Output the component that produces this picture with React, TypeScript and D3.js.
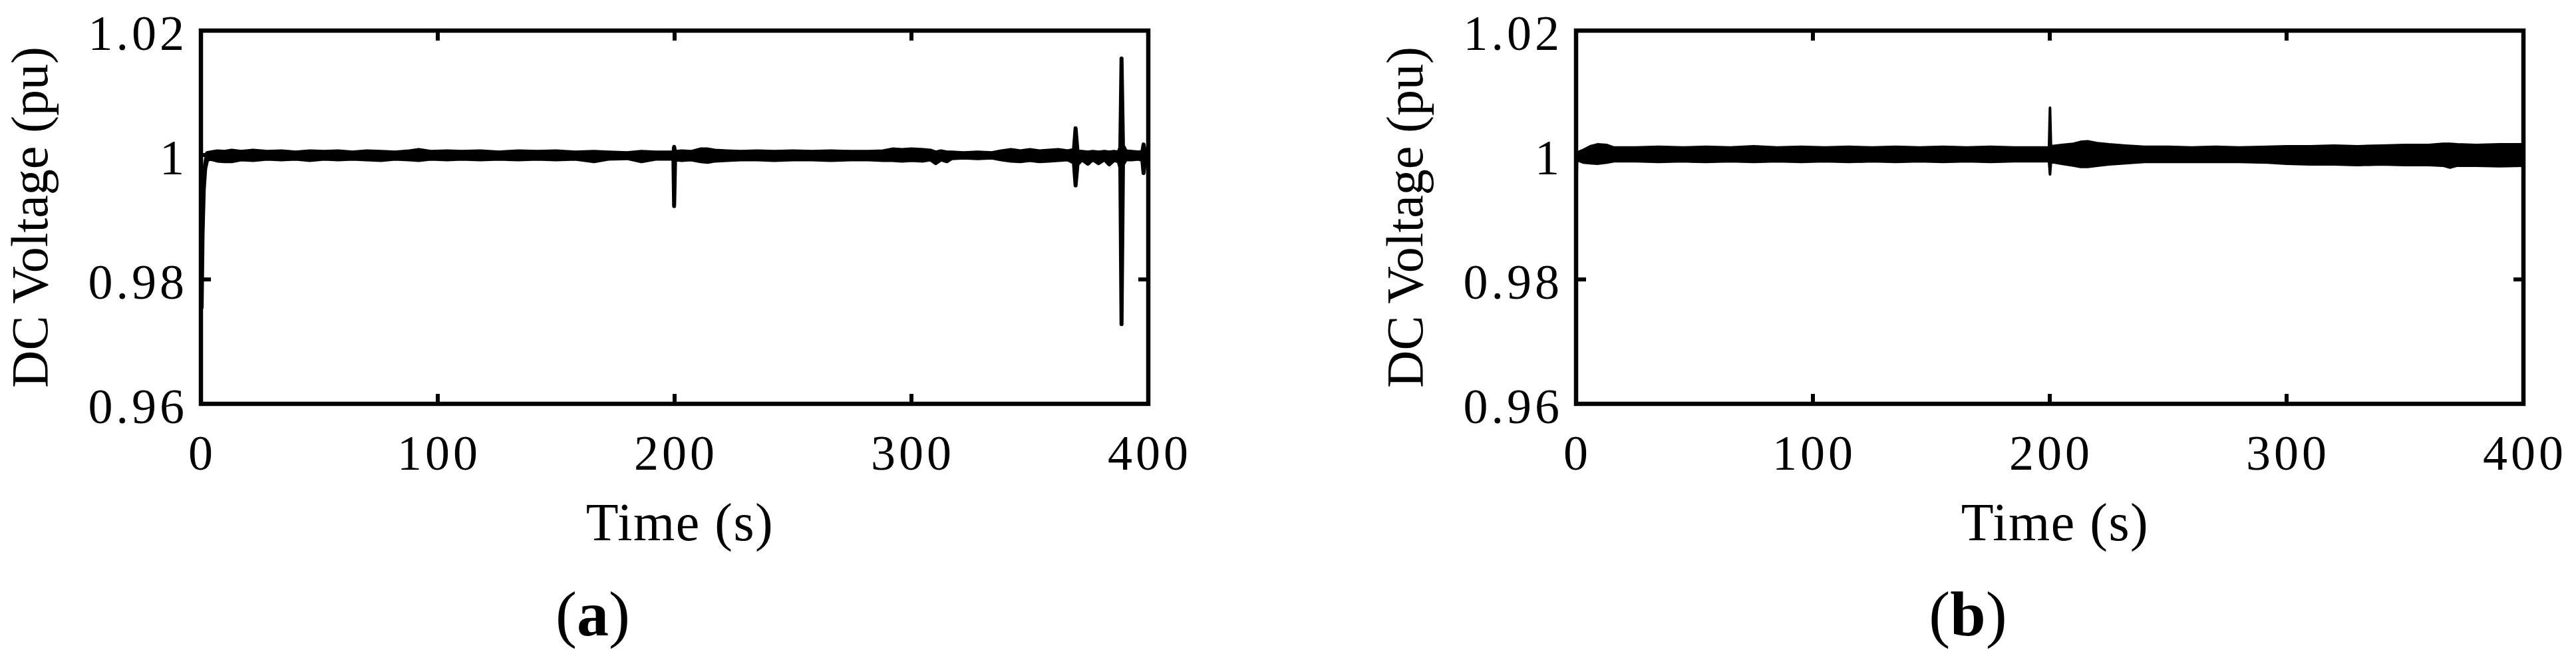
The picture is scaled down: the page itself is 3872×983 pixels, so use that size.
import React from 'react';
import * as d3 from 'd3';

const xTicks = [0, 100, 200, 300, 400];
const yTicks = [0.96, 0.98, 1, 1.02];
const yTickLabels = ['0.96', '0.98', '1', '1.02'];

// (a) trace envelope
const timeA = [0, 0.3, 0.7, 1.2, 1.8, 2.6, 4, 7, 10, 13, 17, 22, 28, 34, 40, 46, 52, 58, 64, 70, 76, 82, 88, 92, 97, 104, 110, 118, 126, 134, 142, 150, 158, 166, 172, 180, 186, 192, 199, 199.5, 199.8, 200.2, 203, 207, 211, 214, 217, 222, 228, 235, 242, 250, 258, 266, 274, 282, 288, 292, 296, 300, 305, 308, 310.3, 312.5, 315, 317, 322, 328, 334, 338, 342, 346, 350, 354, 358, 362, 366, 368.6, 369.3, 370.1, 372, 374.5, 376.5, 379, 381.5, 383.5, 385.5, 387.5, 388.2, 388.7, 389.3, 390.5, 393, 396, 397.5, 398, 398.6, 400];
const upperA = [1.0019, 0.9765, 0.988, 0.995, 0.9985, 1.0003, 1.0004, 1.0006, 1.0005, 1.0007, 1.0005, 1.0007, 1.0005, 1.0006, 1.0004, 1.0006, 1.0005, 1.0006, 1.0004, 1.0006, 1.0005, 1.0004, 1.0006, 1.0008, 1.0005, 1.0006, 1.0005, 1.0006, 1.0004, 1.0006, 1.0005, 1.0006, 1.0004, 1.0005, 1.0004, 1.0003, 1.0005, 1.0004, 1.0004, 1.0004, 1.0013, 1.0005, 1.0006, 1.0005, 1.0009, 1.0009, 1.0007, 1.0006, 1.0005, 1.0006, 1.0005, 1.0006, 1.0005, 1.0006, 1.0005, 1.0005, 1.0006, 1.0009, 1.0008, 1.0009, 1.0008, 1.0007, 1.0004, 1.0006, 1.0004, 1.0004, 1.0003, 1.0004, 1.0003, 1.0006, 1.0008, 1.0006, 1.0008, 1.0006, 1.0007, 1.0008, 1.0006, 1.0008, 1.0043, 1.0006, 1.0005, 1.0004, 1.0005, 1.0004, 1.0005, 1.0004, 1.0005, 1.0004, 1.0012, 1.0155, 1.0015, 1.0006, 1.0005, 1.0004, 1.0005, 1.0017, 1.0005, 1.0004];
const lowerA = [0.999, 0.9755, 0.9875, 0.9945, 0.9978, 0.9992, 0.9994, 0.9991, 0.999, 0.999, 0.9993, 0.9992, 0.9994, 0.9993, 0.9994, 0.9992, 0.9994, 0.9993, 0.9994, 0.9993, 0.9992, 0.9994, 0.9993, 0.9992, 0.9994, 0.9993, 0.9994, 0.9993, 0.9994, 0.9993, 0.9994, 0.9993, 0.9994, 0.999, 0.9994, 0.9995, 0.999, 0.9994, 0.9994, 0.9994, 0.9918, 0.9993, 0.9992, 0.9993, 0.999, 0.9989, 0.9991, 0.9992, 0.9993, 0.9993, 0.9992, 0.9993, 0.9993, 0.9992, 0.9993, 0.9993, 0.9992, 0.9992, 0.9991, 0.9992, 0.9991, 0.9993, 0.9987, 0.9993, 0.999, 0.9995, 0.9996, 0.9995, 0.9996, 0.9993, 0.9991, 0.999, 0.9992, 0.999, 0.9991, 0.9992, 0.9993, 0.9988, 0.9951, 0.9985, 0.9993, 0.9986, 0.9993, 0.9987, 0.9993, 0.9985, 0.9992, 0.999, 0.998, 0.9728, 0.9985, 0.9993, 0.9993, 0.9994, 0.9992, 0.9971, 0.999, 0.9994];

// (b) trace envelope
const timeB = [0, 0.4, 3, 6, 9, 13, 16, 25, 35, 45, 55, 65, 75, 85, 95, 105, 115, 125, 135, 145, 155, 165, 175, 185, 195, 199.7, 200.1, 200.5, 205, 210, 213, 216, 220, 225, 232, 240, 250, 260, 270, 280, 292, 300, 310, 320, 330, 340, 350, 360, 366, 369, 372, 380, 390, 400];
const upperB = [1.0, 1.0004, 1.0008, 1.0014, 1.0017, 1.0016, 1.0012, 1.0012, 1.0013, 1.0012, 1.0013, 1.0012, 1.0014, 1.0012, 1.0013, 1.0012, 1.0013, 1.0012, 1.0013, 1.0012, 1.0013, 1.0012, 1.0013, 1.0012, 1.0012, 1.0012, 1.0076, 1.0014, 1.0016, 1.0018, 1.0021, 1.0022, 1.0019, 1.0017, 1.0015, 1.0013, 1.0013, 1.0012, 1.0013, 1.0012, 1.0013, 1.0014, 1.0014, 1.0015, 1.0014, 1.0015, 1.0016, 1.0016, 1.0018, 1.0018, 1.0017, 1.0016, 1.0017, 1.0017];
const lowerB = [0.992, 0.9992, 0.9988, 0.9987, 0.9986, 0.9988, 0.999, 0.999, 0.9989, 0.999, 0.9989, 0.999, 0.9989, 0.999, 0.9989, 0.999, 0.9989, 0.999, 0.9989, 0.999, 0.9989, 0.999, 0.9989, 0.999, 0.999, 0.999, 0.9969, 0.9989, 0.9986, 0.9983, 0.9981, 0.9981, 0.9983, 0.9985, 0.9987, 0.9989, 0.9989, 0.9989, 0.9989, 0.9989, 0.9988, 0.9986, 0.9985, 0.9985, 0.9984, 0.9985, 0.9984, 0.9984, 0.9983, 0.998, 0.9983, 0.9983, 0.9982, 0.9983];

const font = '"Liberation Serif", "Times New Roman", serif';
const top = 46;
const bottom = 607;
const plotWidth = 1424;
const tickLen = 15;

const Panel = ({ x0, time, upper, lower, traceWidth, label }) => {
  const xScale = d3.scaleLinear().domain([0, 400]).range([x0, x0 + plotWidth]);
  const yScale = d3.scaleLinear().domain([0.96, 1.02]).range([bottom, top]);
  const x1 = x0 + plotWidth;

  const area = d3.area<number>()
    .x(i => xScale(time[i]))
    .y0(i => yScale(lower[i]))
    .y1(i => yScale(upper[i]));

  const idx = time.map((d, i) => i);

  return (
    <g>
      <path d={area(idx)} fill='#000' stroke='#000' strokeWidth={traceWidth} strokeLinejoin='round' />
      <rect x={x0} y={top} width={plotWidth} height={bottom - top} fill='none' stroke='#000' strokeWidth={6.5} />
      {xTicks.map(t => (
        <g key={`xt-${t}`}>
          <line x1={xScale(t)} x2={xScale(t)} y1={bottom} y2={bottom - tickLen} stroke='#000' strokeWidth={6} />
          <line x1={xScale(t)} x2={xScale(t)} y1={top} y2={top + tickLen} stroke='#000' strokeWidth={6} />
          <text x={xScale(t)} dx={2} y={bottom + 99} textAnchor='middle' fontFamily={font} fontSize={74} letterSpacing={5}>{t}</text>
        </g>
      ))}
      {yTicks.map((t, i) => (
        <g key={`yt-${t}`}>
          <line x1={x0} x2={x0 + tickLen} y1={yScale(t)} y2={yScale(t)} stroke='#000' strokeWidth={6} />
          <line x1={x1} x2={x1 - tickLen} y1={yScale(t)} y2={yScale(t)} stroke='#000' strokeWidth={6} />
          <text x={x0 - 20} y={yScale(t) + 29} textAnchor='end' fontFamily={font} fontSize={74} letterSpacing={5}>{yTickLabels[i]}</text>
        </g>
      ))}
      <text x={x0 + 720} y={812} textAnchor='middle' fontFamily={font} fontSize={80} letterSpacing={1.5}>Time (s)</text>
      <text transform={`translate(${x0 - 231}, ${(top + bottom) / 2}) rotate(-90)`} textAnchor='middle' fontFamily={font} fontSize={78}>DC Voltage (pu)</text>
      <text x={x0 + 589} y={955} textAnchor='middle' fontFamily={font} fontSize={96}>
        (<tspan fontWeight='bold'>{label}</tspan>)
      </text>
    </g>
  );
};

const App = () => {
  const width = 3872;
  const height = 983;
  return (
    <svg width={width} height={height} viewBox={`0 0 ${width} ${height}`} style={{ position: 'absolute', left: 0, top: 0, background: '#fff' }}>
      <rect x={0} y={0} width={width} height={height} fill='#fff' />
      <Panel x0={302} time={timeA} upper={upperA} lower={lowerA} traceWidth={6} label='a' />
      <Panel x0={2369} time={timeB} upper={upperB} lower={lowerB} traceWidth={4} label='b' />
    </svg>
  );
};

export default App;
